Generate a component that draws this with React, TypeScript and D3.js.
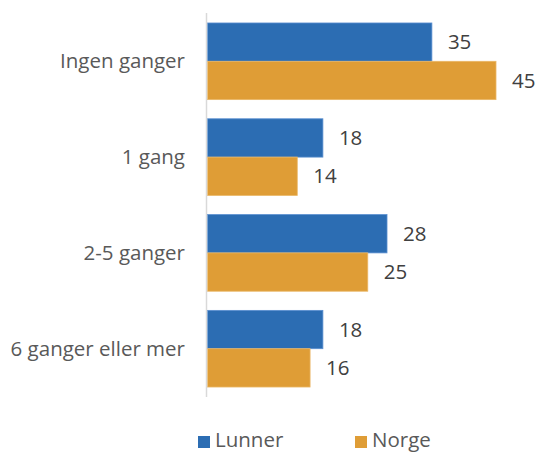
import React from 'react';
import * as d3 from 'd3';

const width = 538;
const height = 453;

const categories = ['Ingen ganger', '1 gang', '2-5 ganger', '6 ganger eller mer'];
const series = ['Lunner', 'Norge'];
const lunner = [35, 18, 28, 18];
const norge = [45, 14, 25, 16];
const colors = ['#2c6db3', '#df9d36'];
const strokes = ['#5a8fd0', '#eab766'];

const font = '"Open Sans", sans-serif';
const fs = 20.5;

export default function App() {
  const values = [lunner, norge];

  const y = d3.scaleBand<string>()
    .domain(categories)
    .range([13.4, 396.6])
    .paddingInner(0.2)
    .paddingOuter(0.1);

  const inner = d3.scaleBand<string>()
    .domain(series)
    .range([0, y.bandwidth()]);

  const x = d3.scaleLinear().domain([0, 45]).range([207.5, 496]);

  return (
    <svg width={width} height={height} style={{position: 'absolute', left: 0, top: 0, background: '#fff'}}>
      {categories.map((cat, i) => (
        <g key={cat} transform={`translate(0,${y(cat)})`}>
          {series.map((s, j) => {
            const v = values[j][i];
            return (
              <g key={s}>
                <rect x={x(0)} y={inner(s)} width={x(v) - x(0)} height={inner.bandwidth()}
                  fill={colors[j]} stroke={strokes[j]} strokeWidth={0.8} />
                <text x={x(v) + 16} y={inner(s)! + inner.bandwidth() / 2} dy="0.35em"
                  fontFamily={font} fontSize={fs} fill="#404040">{v}</text>
              </g>
            );
          })}
          <text x={185} y={y.bandwidth() / 2} dy="0.35em" textAnchor="end"
            fontFamily={font} fontSize={fs} fill="#595959">{cat}</text>
        </g>
      ))}
      <line x1={206.5} x2={206.5} y1={13} y2={397} stroke="#d9d9d9" strokeWidth={1.5} />
      {/* legend, nudged up a bit so the text is not clipped */}
      {series.map((s, j) => {
        const lx = [198, 355][j];
        return (
          <g key={s}>
            <rect x={lx} y={436} width={12} height={12} fill={colors[j]} />
            <text x={lx + 17} y={447} fontFamily={font} fontSize={fs} fill="#595959">{s}</text>
          </g>
        );
      })}
    </svg>
  );
}
